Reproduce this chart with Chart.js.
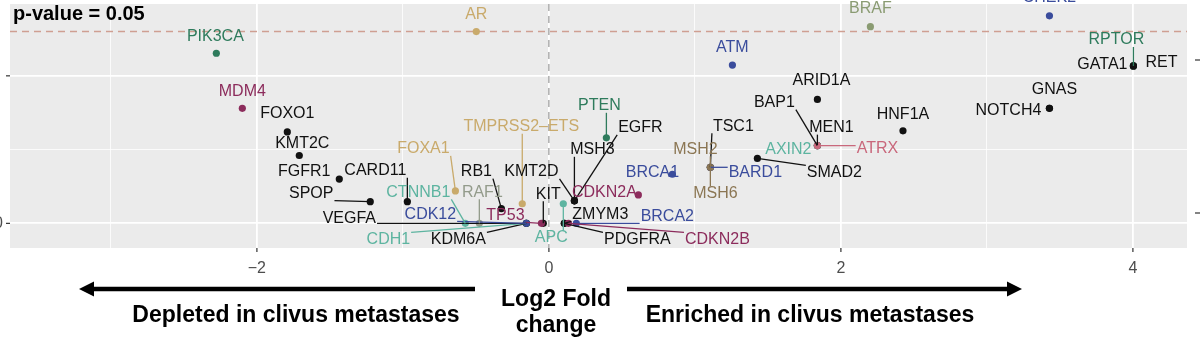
<!DOCTYPE html>
<html>
<head>
<meta charset="utf-8">
<script src="https://cdn.jsdelivr.net/npm/chart.js@4.4.1/dist/chart.umd.min.js"></script>
<style>
  html, body { margin: 0; padding: 0; background: #fff; }
  #wrap { width: 1200px; height: 346px; }
</style>
</head>
<body>
<div id="wrap"><canvas id="volcano" width="1200" height="346"></canvas></div>
<script>
// Genes, log2 fold change and -log10(p)
const genes = ['PIK3CA', 'AR', 'ATM', 'BRAF', 'CHEK2', 'RPTOR', 'GATA1', 'RET', 'GNAS', 'NOTCH4',
    'HNF1A', 'ARID1A', 'BAP1', 'MEN1', 'AXIN2', 'ATRX', 'SMAD2', 'TSC1', 'MSH2', 'BARD1',
    'MSH6', 'BRCA1', 'CDKN2A', 'EGFR', 'MSH3', 'KMT2D', 'PTEN', 'TMPRSS2–ETS', 'FOXA1', 'RB1',
    'KIT', 'TP53', 'KDM6A', 'CDH1', 'VEGFA', 'CDK12', 'CTNNB1', 'RAF1', 'SPOP', 'CARD11',
    'FGFR1', 'KMT2C', 'FOXO1', 'MDM4', 'APC', 'ZMYM3', 'BRCA2', 'PDGFRA', 'CDKN2B'];
const log2FC = [-2.277, -0.497, 1.257, 2.202, 3.428, 4.003, 4.003, 4.003, 3.428, 3.428,
    2.425, 1.839, 1.839, 1.839, 1.839, 1.839, 1.428, 1.106, 1.106, 1.106,
    1.106, 0.846, 0.613, 0.175, 0.175, 0.175, 0.394, -0.182, -0.64, -0.325,
    -0.038, -0.051, -0.154, -0.154, -0.154, -0.154, -0.572, -0.476, -1.223, -0.969,
    -1.435, -1.709, -1.791, -2.099, 0.099, 0.106, 0.188, 0.106, 0.134];
const negLog10P = [1.153, 1.30, 1.073, 1.333, 1.407, 1.067, 1.067, 1.067, 0.78, 0.78,
    0.627, 0.84, 0.527, 0.527, 0.527, 0.527, 0.44, 0.38, 0.38, 0.38,
    0.38, 0.333, 0.193, 0.153, 0.153, 0.153, 0.58, 0.133, 0.22, 0.10,
    0, 0, 0, 0, 0, 0, 0, 0, 0.147, 0.147,
    0.30, 0.46, 0.62, 0.78, 0.133, 0, 0, 0, 0];
const geneGroup = ['pi3k', 'hormone', 'ddr', 'mapk', 'ddr', 'pi3k', 'other', 'other', 'other', 'other',
    'other', 'other', 'other', 'other', 'wnt', 'chromatin', 'other', 'other', 'mmr', 'ddr',
    'mmr', 'ddr', 'cellcycle', 'other', 'other', 'other', 'pi3k', 'hormone', 'hormone', 'other',
    'other', 'cellcycle', 'other', 'wnt', 'other', 'ddr', 'wnt', 'raf', 'other', 'other',
    'other', 'other', 'other', 'cellcycle', 'wnt', 'other', 'ddr', 'other', 'cellcycle'];

const xTicks = [-2, 0, 2, 4];
const xMinor = [-3, -1, 1, 3];
const yMajor = [0, 1];
const yMinor = [0.5];
const pCutoff = 0.05;

// label placement (pixel offsets from the point) and whether a leader line is drawn
const labelDx = [-1, 0, 0, 0, 0, -17, -31, 28, 5, -41,
    0, 4, -43, 14, -29, 60, 77, 23, -15, 45,
    5, -20, -34, 66, 18, -43, -7, -1, -32, -25,
    5, -36, -68, -138, -177, -96, -47, 3, -59, -32,
    -35, 3, 0, 0, -12, 36, 91, 73, 149];
const labelDy = [-17, -17, -17, -18, -18, -26, -1, -3, -19, 2,
    -16, -19, -43, -18, 4, 3, 14, -41, -18, 5,
    26, -2, -2, -73, -51, -29, -32, -77, -42, -37,
    -29, -8, 16, 16, -5, -9, -31, -31, -8, -31,
    -8, -12, -18, -17, 34, -9, -7, 16, 16];
const hasLeader = [0, 0, 0, 0, 0, 1, 0, 0, 0, 0,
    0, 0, 1, 1, 0, 1, 1, 1, 1, 1,
    1, 0, 0, 1, 1, 1, 1, 1, 1, 1,
    1, 1, 1, 1, 1, 1, 1, 1, 1, 1,
    0, 0, 0, 0, 1, 1, 1, 1, 1];

const groupColors = {
    other: '#111111',
    pi3k: '#2e7b5c',
    hormone: '#c9aa6b',
    ddr: '#3a4c9c',
    mapk: '#8a9b72',
    raf: '#939b8b',
    cellcycle: '#8c2c5c',
    chromatin: '#c9687c',
    wnt: '#5db4a0',
    mmr: '#8b7653'
};

const FONT = '"Liberation Sans", Arial, Helvetica, sans-serif';

const panelPlugin = {
    id: 'panel',
    beforeDraw(chart) {
        const { ctx, chartArea: a } = chart;
        ctx.save();
        ctx.fillStyle = '#ebebeb';
        ctx.fillRect(a.left, a.top, a.right - a.left, a.bottom - a.top);
        ctx.restore();
    },
    beforeDatasetsDraw(chart) {
        const { ctx, chartArea: a, scales } = chart;
        ctx.save();
        ctx.lineWidth = 1.4;
        ctx.setLineDash([7, 5]);
        // x = 0 reference
        const x0 = scales.x.getPixelForValue(0);
        ctx.strokeStyle = '#a8a8a8';
        ctx.beginPath();
        ctx.moveTo(x0, a.top);
        ctx.lineTo(x0, a.bottom);
        ctx.stroke();
        // p = 0.05 cut-off
        const yp = scales.y.getPixelForValue(-Math.log10(pCutoff));
        ctx.strokeStyle = '#cf9f92';
        ctx.beginPath();
        ctx.moveTo(a.left, yp);
        ctx.lineTo(a.right, yp);
        ctx.stroke();
        ctx.restore();
    }
};

const labelPlugin = {
    id: 'geneLabels',
    afterDatasetsDraw(chart) {
        const { ctx } = chart;
        const meta = chart.getDatasetMeta(0);
        ctx.save();
        ctx.font = '16px ' + FONT;
        ctx.textAlign = 'center';
        ctx.textBaseline = 'middle';
        ctx.lineWidth = 1.3;
        // leader segments first
        genes.forEach((g, i) => {
            if (!hasLeader[i]) return;
            const p = meta.data[i];
            const lx = p.x + labelDx[i];
            const ly = p.y + labelDy[i];
            const hw = ctx.measureText(g).width / 2 + 1;
            const hh = 7;
            const ex = Math.min(Math.max(p.x, lx - hw), lx + hw);
            const ey = Math.min(Math.max(p.y, ly - hh), ly + hh);
            ctx.strokeStyle = groupColors[geneGroup[i]];
            ctx.beginPath();
            ctx.moveTo(p.x, p.y);
            ctx.lineTo(ex, ey);
            ctx.stroke();
        });
        genes.forEach((g, i) => {
            const p = meta.data[i];
            ctx.fillStyle = groupColors[geneGroup[i]];
            ctx.fillText(g, p.x + labelDx[i], p.y + labelDy[i]);
        });
        ctx.restore();
    }
};

function arrow(ctx, x1, x2, y) {
    // shaft from x1 to tip at x2
    const dir = Math.sign(x2 - x1);
    const head = 15;
    ctx.lineWidth = 4.5;
    ctx.beginPath();
    ctx.moveTo(x1, y);
    ctx.lineTo(x2 - dir * head, y);
    ctx.stroke();
    ctx.beginPath();
    ctx.moveTo(x2, y);
    ctx.lineTo(x2 - dir * head, y - 7.5);
    ctx.lineTo(x2 - dir * head, y + 7.5);
    ctx.closePath();
    ctx.fill();
}

const annotationPlugin = {
    id: 'annotations',
    afterDraw(chart) {
        const { ctx, scales } = chart;
        ctx.save();
        ctx.fillStyle = '#000';
        ctx.strokeStyle = '#000';
        ctx.font = 'bold 20px ' + FONT;
        ctx.textAlign = 'left';
        ctx.textBaseline = 'middle';
        ctx.fillText('p-value = 0.05', 13, 14);

        // y-axis tick stubs (cropped axis on both sides)
        ctx.strokeStyle = '#333';
        ctx.lineWidth = 1.2;
        yMajor.forEach(v => {
            const py = scales.y.getPixelForValue(v);
            ctx.beginPath();
            ctx.moveTo(6, py);
            ctx.lineTo(10, py);
            ctx.stroke();
        });
        ctx.fillStyle = '#4d4d4d';
        ctx.font = '16px ' + FONT;
        ctx.textAlign = 'right';
        ctx.fillText('0', 3, scales.y.getPixelForValue(0));
        [60, 213].forEach(py => {
            ctx.beginPath();
            ctx.moveTo(1195, py);
            ctx.lineTo(1200, py);
            ctx.stroke();
        });

        // direction arrows and axis title
        ctx.fillStyle = '#000';
        ctx.strokeStyle = '#000';
        arrow(ctx, 475, 79, 289);
        arrow(ctx, 627, 1022, 289);
        ctx.font = 'bold 23px ' + FONT;
        ctx.textAlign = 'center';
        ctx.textBaseline = 'alphabetic';
        ctx.fillText('Depleted in clivus metastases', 296, 322);
        ctx.fillText('Enriched in clivus metastases', 810, 322);
        ctx.fillText('Log2 Fold', 556, 306);
        ctx.fillText('change', 556, 332);
        ctx.restore();
    }
};

const isMajorX = v => xTicks.includes(v);
const isMajorY = v => yMajor.includes(v);

new Chart(document.getElementById('volcano'), {
    type: 'scatter',
    data: {
        datasets: [{
            data: genes.map((g, i) => ({ x: log2FC[i], y: negLog10P[i] })),
            pointRadius: 3.6,
            pointBorderWidth: 0,
            pointBackgroundColor: geneGroup.map(k => groupColors[k])
        }]
    },
    options: {
        responsive: false,
        animation: false,
        events: [],
        layout: { padding: { left: 10, right: 13, top: 0, bottom: 0 } },
        plugins: {
            legend: { display: false },
            tooltip: { enabled: false }
        },
        scales: {
            x: {
                type: 'linear',
                min: -3.69,
                max: 4.37,
                afterBuildTicks: scale => {
                    scale.ticks = xTicks.concat(xMinor).sort((a, b) => a - b).map(v => ({ value: v }));
                },
                afterFit: scale => { scale.height = 98; },
                border: { display: false },
                grid: {
                    color: '#ffffff',
                    lineWidth: c => (c.tick && isMajorX(c.tick.value) ? 1.8 : 0.8),
                    tickColor: c => (c.tick && isMajorX(c.tick.value) ? '#333333' : 'rgba(0,0,0,0)'),
                    tickWidth: 1.2,
                    tickLength: 4
                },
                ticks: {
                    autoSkip: false,
                    maxRotation: 0,
                    padding: 7,
                    color: '#4d4d4d',
                    font: { family: FONT, size: 16 },
                    callback: v => (isMajorX(v) ? (v < 0 ? '−' + Math.abs(v) : String(v)) : '')
                }
            },
            y: {
                type: 'linear',
                min: -0.167,
                max: 1.487,
                afterBuildTicks: scale => {
                    scale.ticks = yMajor.concat(yMinor).sort((a, b) => a - b).map(v => ({ value: v }));
                },
                afterFit: scale => { scale.width = 0; },
                border: { display: false },
                grid: {
                    color: '#ffffff',
                    lineWidth: c => (c.tick && isMajorY(c.tick.value) ? 1.8 : 0.8),
                    drawTicks: false
                },
                ticks: { display: false }
            }
        }
    },
    plugins: [panelPlugin, labelPlugin, annotationPlugin]
});
</script>
</body>
</html>
